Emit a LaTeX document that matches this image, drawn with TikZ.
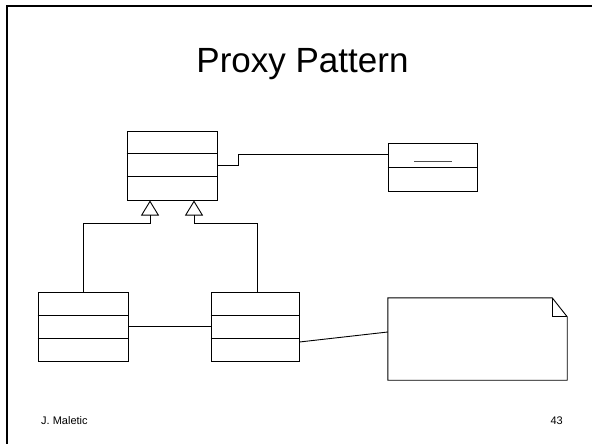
\documentclass[tikz,border=0pt]{standalone}
\usepackage{fontspec}
\setmainfont{Liberation Sans}
\usetikzlibrary{arrows.meta}
\begin{document}
\begin{tikzpicture}[x=1pt,y=-1pt,
  cls/.style={draw=black,line width=1pt,inner sep=0pt,minimum width=90pt,minimum height=69pt},
  rcls/.style={draw=black,line width=1pt,inner sep=0pt,minimum width=89pt,minimum height=48pt},
  conn/.style={draw=black,line width=0.9pt},
  inh/.style={conn,-{Triangle[open,length=15pt,width=18pt]}},
  frame/.style={draw=black,line width=2pt},
  txt/.style={inner sep=0pt}]
\useasboundingbox (0,0) rectangle (592,444);
\fill[white] (0,0) rectangle (592,444);
\draw[frame] (7,446) -- (7,6) -- (594,6);
% title and footer
\node[txt,anchor=base] (title) at (302.5,73) {\fontsize{35}{42}\selectfont Proxy Pattern};
\node[txt,anchor=base west] (author) at (41,424) {\fontsize{11}{13}\selectfont J. Maletic};
\node[txt,anchor=base east] (page) at (563,424) {\fontsize{11}{13}\selectfont 43};
% classes
\node[cls] (subject) at (172,165.5) {};
\draw[conn] ([yshift=-23pt]subject.north west) -- ([yshift=-23pt]subject.north east);
\draw[conn] ([yshift=-46pt]subject.north west) -- ([yshift=-46pt]subject.north east);
\node[rcls] (client) at (432.5,167) {};
\draw[conn] (client.west) -- (client.east);
\draw[black!70,line width=1pt] (414,161) -- (452,161);
\node[cls] (real) at (83,326.5) {};
\draw[conn] ([yshift=-24pt]real.north west) -- ([yshift=-24pt]real.north east);
\draw[conn] ([yshift=-47pt]real.north west) -- ([yshift=-47pt]real.north east);
\node[cls,minimum width=88pt] (proxy) at (255,326.5) {};
\draw[conn] ([yshift=-24pt]proxy.north west) -- ([yshift=-24pt]proxy.north east);
\draw[conn] ([yshift=-47pt]proxy.north west) -- ([yshift=-47pt]proxy.north east);
% note
\node[inner sep=0pt,minimum width=179pt,minimum height=82pt] (note) at (477.5,339) {};
\draw[conn] (note.north west) -- ([xshift=-15pt]note.north east) -- ([yshift=-19pt]note.north east) -- (note.south east) -- (note.south west) -- cycle;
\draw[conn] ([xshift=-15pt]note.north east) -- ([xshift=-15pt,yshift=-19pt]note.north east) -- ([yshift=-19pt]note.north east);
% connectors
\draw[inh] (real.north) |- ([xshift=-22pt,yshift=-23pt]subject.south) -- ([xshift=-22pt]subject.south);
\draw[inh] ([xshift=2pt]proxy.north) |- ([xshift=22pt,yshift=-23pt]subject.south) -- ([xshift=22pt]subject.south);
\draw[conn] (subject.east) -- ++(21,0) |- ([yshift=13pt]client.west);
\draw[conn] (real.east) -- (proxy.west);
\draw[conn] ([yshift=-15.5pt]proxy.east) -- ([yshift=7pt]note.west);
\end{tikzpicture}
\end{document}
